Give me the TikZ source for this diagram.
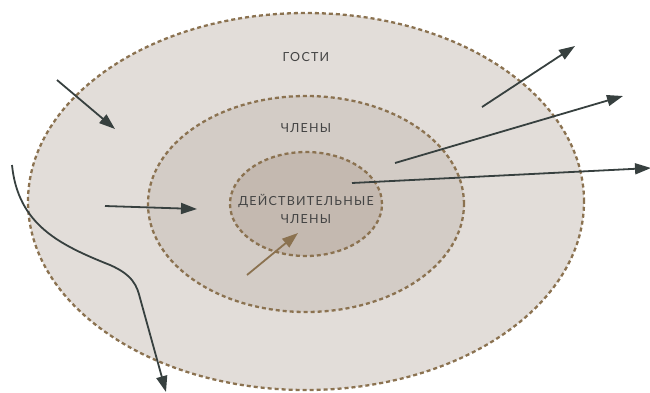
\documentclass[tikz,border=0pt]{standalone}
\usepackage{fontspec}
\setmainfont{Lato}
\newfontfamily\lblfont[LetterSpace=10]{Lato}
\usetikzlibrary{shapes.geometric,arrows.meta}
\definecolor{outerfill}{HTML}{E2DDD9}
\definecolor{midfill}{HTML}{D3CCC6}
\definecolor{innerfill}{HTML}{C4B9B0}
\definecolor{border}{HTML}{8B7250}
\definecolor{arrowdark}{HTML}{37403F}
\definecolor{txt}{HTML}{444444}
\tikzset{
  ring/.style={ellipse, draw=border, line width=2.3pt, dash pattern=on 4pt off 3pt, inner sep=0pt},
  lbl/.style={font=\lblfont\fontsize{12.5}{17.5}\selectfont, text=txt, align=center},
  flow/.style={draw=arrowdark, line width=1.8pt, -{Triangle[length=16pt,width=11pt]}},
  inflow/.style={draw=border, line width=1.8pt, -{Triangle[length=16pt,width=11pt]}}
}
\begin{document}
\begin{tikzpicture}[x=1pt,y=-1pt]
\useasboundingbox (0,0) rectangle (650,392);
\node[ring, fill=outerfill, minimum width=556pt, minimum height=377pt] (outer) at (306,201.5) {};
\node[ring, fill=midfill, minimum width=316pt, minimum height=216pt] (mid) at (306,204) {};
\node[ring, fill=innerfill, minimum width=152pt, minimum height=104pt] (inner) at (306,204) {};
\node[lbl] (guests) at (306,57) {ГОСТИ};
\node[lbl] (members) at (306,128) {ЧЛЕНЫ};
\node[lbl] (full) at (306,209) {ДЕЙСТВИТЕЛЬНЫЕ\\ЧЛЕНЫ};
% arrows
\coordinate (a1s) at (57,80);   \coordinate (a1e) at (115,129);
\coordinate (a2s) at (105,206); \coordinate (a2e) at (197,209);
\coordinate (a3s) at (12,165);  \coordinate (a3m) at (110,265); \coordinate (a3n) at (140,298); \coordinate (a3e) at (166,392);
\coordinate (a4s) at (482,107); \coordinate (a4e) at (575,46);
\coordinate (a5s) at (395,163); \coordinate (a5e) at (623,96);
\coordinate (a6s) at (352,183); \coordinate (a6e) at (651,168);
\coordinate (a7s) at (247,275); \coordinate (a7e) at (298,233);
\draw[flow] (a1s) -- (a1e);
\draw[flow] (a2s) -- (a2e);
\draw[flow] (a3s) .. controls (18,225) and (60,245) .. (a3m) .. controls (133,275) and (137,286) .. (a3n) -- (a3e);
\draw[flow] (a4s) -- (a4e);
\draw[flow] (a5s) -- (a5e);
\draw[flow] (a6s) -- (a6e);
\draw[inflow] (a7s) -- (a7e);
\end{tikzpicture}
\end{document}
